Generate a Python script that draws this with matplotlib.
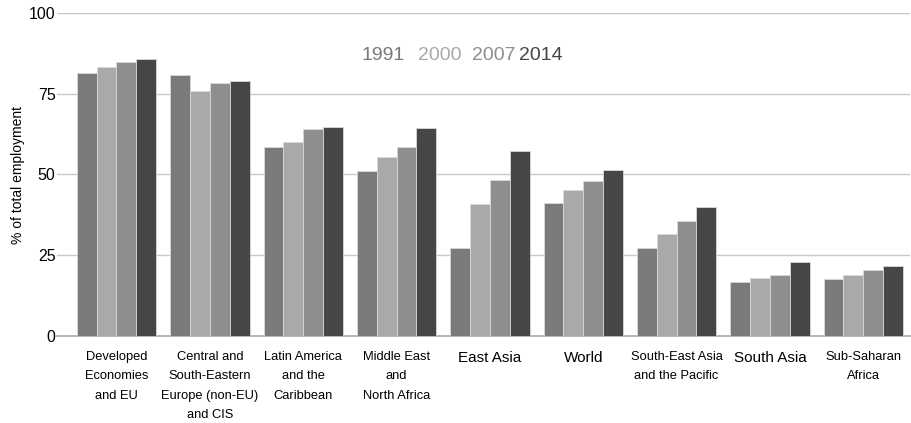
import numpy as np
import matplotlib
matplotlib.use('Agg')
import matplotlib.pyplot as plt

plt.rcParams['font.family'] = ['Liberation Sans', 'DejaVu Sans']

regions = ['Developed\nEconomies\nand EU',
           'Central and\nSouth-Eastern\nEurope (non-EU)\nand CIS',
           'Latin America\nand the\nCaribbean',
           'Middle East\nand\nNorth Africa',
           'East Asia', 'World',
           'South-East Asia\nand the Pacific',
           'South Asia',
           'Sub-Saharan\nAfrica']
years = ['1991', '2000', '2007', '2014']
v1991 = [81.3, 80.8, 58.5, 51.2, 27.1, 41.1, 27.1, 16.8, 17.6]
v2000 = [83.2, 75.9, 60.0, 55.4, 40.8, 45.1, 31.6, 18.1, 18.8]
v2007 = [84.8, 78.4, 64.0, 58.5, 48.4, 48.0, 35.6, 19.0, 20.3]
v2014 = [85.7, 79.1, 64.6, 64.4, 57.4, 51.4, 40.0, 22.9, 21.6]
colors = ['#7a7a7a', '#a9a9a9', '#8e8e8e', '#464646']

fig = plt.figure(figsize=(9.12, 4.23), dpi=100)
ax = fig.add_axes([57/912, 87/423, (910-57)/912, (336-13)/423])

x = np.arange(len(regions))
w = 0.85 / 4
for i, (vals, c, yr) in enumerate(zip([v1991, v2000, v2007, v2014], colors, years)):
    ax.bar(x - 0.425 + w * (i + 0.5), vals, w, color=c, edgecolor='#d8d8d8',
           linewidth=0.6, label=yr, zorder=3)

ax.set_xlim(-0.637, 8.5)
ax.set_ylim(0, 100)
ax.set_yticks([0, 25, 50, 75, 100])
ax.yaxis.grid(True, color='#c8c8c8', linewidth=1, zorder=0)
ax.set_axisbelow(True)
for s in ['top', 'right', 'left']:
    ax.spines[s].set_visible(False)
ax.spines['bottom'].set_color('#aaaaaa')
ax.spines['bottom'].set_linewidth(1.2)
ax.tick_params(axis='both', length=0)
ax.tick_params(axis='y', labelsize=11.5, pad=1)
ax.set_xticks(x)
ax.set_xticklabels(regions, linespacing=1.8, va='top')
for lab in ax.get_xticklabels():
    # long wrapped labels are set in a tighter size, single words larger
    lab.set_fontsize(9.3 if '\n' in lab.get_text() else 11)
ax.tick_params(axis='x', pad=11)
ax.set_ylabel('% of total employment', fontsize=10, labelpad=3)

# legend as coloured year labels across the top
legend_x = [362, 418, 472, 519]
for yr, c, px in zip(years, colors, legend_x):
    fig.text(px / 912, 1 - 55 / 423, yr, color=c, fontsize=14,
             ha='left', va='center')

fig.savefig('out.png', dpi=100)
